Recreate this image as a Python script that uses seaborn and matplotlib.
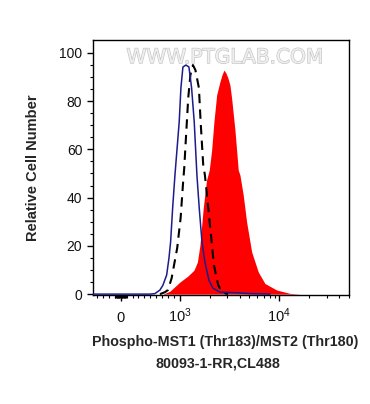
import matplotlib
matplotlib.use("Agg")
import matplotlib.pyplot as plt
import matplotlib.patheffects as pe
import seaborn as sns

# control (blue, solid)
blue_x = [-470, 494, 578, 663, 713, 776, 815, 843, 877, 916, 988, 1023, 1072, 1149,
          1232, 1311, 1393, 1483, 1565, 1666, 1785, 1959, 2149, 2528, 3580, 5069, 8061]
blue_y = [0, 0, 0.2, 1.7, 3.7, 7.9, 14.9, 21.7, 35.6, 49.3, 71.4, 85.4, 94.1, 94.9,
          94.1, 85.4, 71.4, 49.3, 35.6, 21.7, 13.3, 5.8, 2.5, 0.8, 0.6, 0.2, 0]

# secondary only (black, dashed)
dash_x = [663, 747, 798, 860, 954, 1016, 1080, 1105, 1149, 1212, 1275, 1352, 1432,
          1553, 1616, 1716, 1785, 1928, 2086, 2199, 2431, 2649, 3044]
dash_y = [0, 0.8, 1.7, 6.6, 19.1, 31.5, 47.2, 52.2, 64.6, 81.2, 90.8, 94.9, 92.8,
          85.4, 71.4, 53.5, 49.3, 35.6, 21.7, 12.0, 3.7, 0.8, 0]

# antibody (red, filled)
red_x = [713, 831, 1000, 1204, 1384, 1500, 1590, 1716, 1853, 1973, 2086, 2199, 2343,
         2528, 2649, 2774, 2905, 3044, 3188, 3316, 3580, 3865, 4020, 4340, 4696, 5274,
         6145, 7178, 9415, 12820, 16160]
red_y = [0, 1.2, 5.0, 7.5, 9.9, 13.3, 20.3, 35.6, 47.2, 51.4, 59.7, 71.4, 82.5,
         88.0, 90.8, 92.8, 91.6, 89.5, 86.6, 81.1, 68.0, 51.4, 49.3, 41.0, 29.8, 17.5,
         9.2, 4.4, 1.7, 0.3, 0]

x_ticks = [0, 1000, 10000]
x_ticklabels = ["0", "$10^3$", "$10^4$"]
x_minor = ([-400, -300, -200, -100] + list(range(-90, 0, 10)) + list(range(10, 100, 10))
           + list(range(100, 1000, 100)) + list(range(2000, 10000, 1000))
           + list(range(20000, 60000, 10000)))
y_ticks = [0, 20, 40, 60, 80, 100]

sns.set_style("ticks")
plt.rcParams["font.family"] = ["Liberation Sans", "DejaVu Sans"]
plt.rcParams["mathtext.fontset"] = "custom"
plt.rcParams["mathtext.rm"] = "Liberation Sans"
plt.rcParams["mathtext.it"] = "Liberation Sans:italic"
plt.rcParams["mathtext.bf"] = "Liberation Sans:bold"

fig = plt.figure(figsize=(3.7, 4.04), dpi=100)
ax = fig.add_axes([0.2505, 0.269, 0.6935, 0.6327])
ax.set_xscale("symlog", linthresh=1000, linscale=0.537)

ax.fill_between(red_x, red_y, 0, color="#ff0000", linewidth=0, zorder=1)
sns.lineplot(x=dash_x, y=dash_y, ax=ax, color="black", linewidth=1.5, sort=False,
             zorder=2).lines[-1].set_dashes([4.5, 3])
sns.lineplot(x=blue_x, y=blue_y, ax=ax, color="#1c1c8c", linewidth=1.1, sort=False, zorder=3)

ax.set_xlim(-472, 50700)
ax.set_ylim(-0.5, 105.4)

ax.set_xticks(x_ticks)
ax.set_xticklabels(x_ticklabels)
ax.set_xticks(x_minor, minor=True)
ax.set_yticks(y_ticks)
ax.set_yticks(range(0, 105, 5), minor=True)
ax.set_yticklabels([str(v) for v in y_ticks])

ax.tick_params(axis="both", which="major", direction="out", length=4.5, width=1,
               labelsize=10, color="black", labelcolor="#111111")
ax.tick_params(axis="x", which="major", labelsize=10.5)
ax.tick_params(axis="both", which="minor", direction="out", length=2.5, width=0.8,
               color="black")
ax.tick_params(axis="y", pad=3)
ax.tick_params(axis="x", pad=15)
for lab in ax.get_xticklabels():
    lab.set_va("baseline")

for sp in ax.spines.values():
    sp.set_visible(True)
    sp.set_color("black")
    sp.set_linewidth(1)

ax.text(0.515, 0.93, "WWW.PTGLAB.COM", transform=ax.transAxes, ha="center", va="center",
        fontsize=14.5, family="DejaVu Sans", color="#efefef", zorder=0,
        path_effects=[pe.withStroke(linewidth=0.9, foreground="#c4c4c4")])

ax.set_ylabel("Relative Cell Number", fontsize=10.5, fontweight="bold")
ax.yaxis.set_label_coords(-0.205, 0.5)
ax.set_xlabel("")
fig.text(225 / 370, 1 - 341.7 / 404, "Phospho-MST1 (Thr183)/MST2 (Thr180)",
         ha="center", va="center", fontsize=10.3, fontweight="bold")
fig.text(218 / 370, 1 - 364 / 404, "80093-1-RR,CL488",
         ha="center", va="center", fontsize=10.3, fontweight="bold")

fig.savefig("out.png", dpi=100)
